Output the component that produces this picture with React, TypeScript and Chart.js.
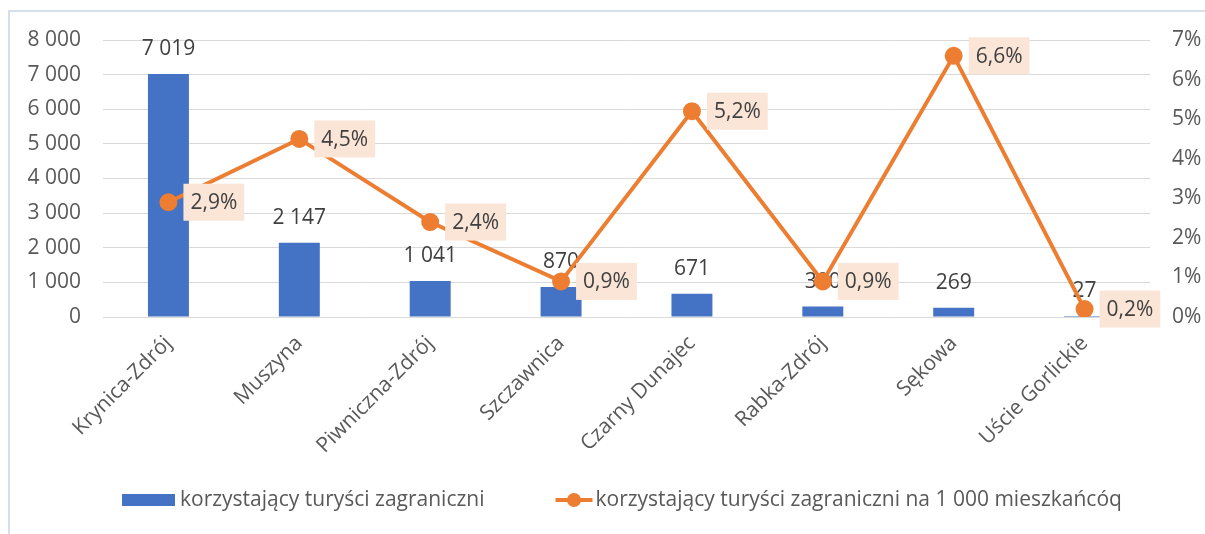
import React, { useEffect, useRef } from "react";
import { Chart, registerables } from "chart.js";

Chart.register(...registerables);

const categories = [
  "Krynica-Zdrój",
  "Muszyna",
  "Piwniczna-Zdrój",
  "Szczawnica",
  "Czarny Dunajec",
  "Rabka-Zdrój",
  "Sękowa",
  "Uście Gorlickie",
];
const tourists = [7019, 2147, 1041, 870, 671, 300, 269, 27];
const perThousand = [2.9, 4.5, 2.4, 0.9, 5.2, 0.9, 6.6, 0.2];
const seriesNames = [
  "korzystający turyści zagraniczni",
  "korzystający turyści zagraniczni na 1 000 mieszkańcóq",
];

const FONT = "'Open Sans', sans-serif";
const FS = 21;
const AXIS_COLOR = "#595959";
const LABEL_COLOR = "#404040";
const BLUE = "#4472C4";
const ORANGE = "#ED7D31";
const PEACH = "#FBE5D6";

const fmtThousands = (v: number) =>
  String(Math.round(v)).replace(/\B(?=(\d{3})+(?!\d))/g, " ");
const fmtPct = (v: number) => v.toFixed(1).replace(".", ",") + "%";

const labelsPlugin = {
  id: "customLabels",
  beforeDatasetDraw(chart: any, args: any) {
    if (args.index !== 1) return;
    const ctx = chart.ctx;
    const meta = chart.getDatasetMeta(0);
    ctx.save();
    ctx.font = `${FS}px ${FONT}`;
    ctx.fillStyle = LABEL_COLOR;
    ctx.textAlign = "center";
    ctx.textBaseline = "middle";
    meta.data.forEach((bar: any, i: number) => {
      ctx.fillText(fmtThousands(tourists[i]), bar.x, bar.y - 25);
    });
    ctx.restore();
  },
  afterDatasetsDraw(chart: any) {
    const ctx = chart.ctx;
    const meta = chart.getDatasetMeta(1);
    ctx.save();
    ctx.font = `${FS}px ${FONT}`;
    ctx.textBaseline = "middle";
    ctx.textAlign = "center";
    meta.data.forEach((pt: any, i: number) => {
      const text = fmtPct(perThousand[i]);
      const w = ctx.measureText(text).width + 14;
      const h = 37;
      const left = pt.x + 15;
      ctx.fillStyle = PEACH;
      ctx.fillRect(left, pt.y - h / 2, w, h);
      ctx.fillStyle = LABEL_COLOR;
      ctx.fillText(text, left + w / 2, pt.y + 1);
    });
    ctx.restore();
  },
  afterDraw(chart: any) {
    const ctx = chart.ctx;
    const y = 500;
    ctx.save();
    ctx.font = `${FS}px ${FONT}`;
    ctx.textBaseline = "middle";
    ctx.textAlign = "left";
    let x = 122;
    ctx.fillStyle = BLUE;
    ctx.fillRect(x, y - 6, 53, 12);
    ctx.fillStyle = AXIS_COLOR;
    ctx.fillText(seriesNames[0], x + 58, y);
    x = x + 58 + ctx.measureText(seriesNames[0]).width + 71;
    ctx.strokeStyle = ORANGE;
    ctx.lineWidth = 4;
    ctx.beginPath();
    ctx.moveTo(x, y);
    ctx.lineTo(x + 37, y);
    ctx.stroke();
    ctx.fillStyle = ORANGE;
    ctx.beginPath();
    ctx.arc(x + 18.5, y, 7, 0, Math.PI * 2);
    ctx.fill();
    ctx.fillStyle = AXIS_COLOR;
    ctx.fillText(seriesNames[1], x + 40, y);
    ctx.restore();
  },
};

export default function App() {
  const canvasRef = useRef<HTMLCanvasElement | null>(null);

  useEffect(() => {
    if (!canvasRef.current) return;
    const chart = new Chart(canvasRef.current, {
      type: "bar",
      data: {
        labels: categories,
        datasets: [
          {
            type: "bar",
            label: seriesNames[0],
            data: tourists,
            backgroundColor: BLUE,
            yAxisID: "y",
            barPercentage: 0.313,
            categoryPercentage: 1,
            order: 1,
          },
          {
            type: "line",
            label: seriesNames[1],
            data: perThousand,
            borderColor: ORANGE,
            backgroundColor: ORANGE,
            borderWidth: 4,
            pointRadius: 7,
            pointBackgroundColor: ORANGE,
            pointBorderColor: ORANGE,
            tension: 0,
            yAxisID: "y1",
            order: 0,
          } as any,
        ],
      },
      options: {
        animation: false,
        responsive: true,
        maintainAspectRatio: false,
        layout: { padding: { top: 40, bottom: 70, left: 0, right: 0 } },
        plugins: {
          legend: { display: false },
          tooltip: { enabled: false },
        },
        scales: {
          x: {
            grid: { display: false },
            border: { display: false },
            ticks: {
              color: AXIS_COLOR,
              font: { family: FONT, size: FS },
              minRotation: 45,
              maxRotation: 45,
              padding: 6,
            },
            afterFit: (s: any) => {
              s.height = 147;
            },
          },
          y: {
            position: "left",
            min: 0,
            max: 8000,
            grid: { color: "#D9D9D9", lineWidth: 1, drawTicks: false },
            border: { display: false },
            ticks: {
              stepSize: 1000,
              color: AXIS_COLOR,
              font: { family: FONT, size: FS },
              padding: 22,
              callback: (v: any) => fmtThousands(Number(v)),
            },
            afterFit: (s: any) => {
              s.width = 103;
            },
          },
          y1: {
            position: "right",
            min: 0,
            max: 7,
            grid: { display: false, drawTicks: false },
            border: { display: false },
            ticks: {
              stepSize: 1,
              color: AXIS_COLOR,
              font: { family: FONT, size: FS },
              padding: 22,
              callback: (v: any) => Number(v) + "%",
            },
            afterFit: (s: any) => {
              s.width = 55;
            },
          },
        },
      },
      plugins: [labelsPlugin],
    });
    return () => chart.destroy();
  }, []);

  return (
    <div
      style={{
        position: "fixed",
        left: 0,
        top: 0,
        width: 1205,
        height: 534,
        background: "#fff",
        overflow: "hidden",
      }}
    >
      <div
        style={{
          position: "absolute",
          left: 8,
          top: 10,
          width: 2000,
          height: 2000,
          borderLeft: "2px solid #D6DEEB",
          borderTop: "2px solid #D6DEEB",
        }}
      />
      <canvas
        ref={canvasRef}
        style={{ position: "absolute", left: 0, top: 0 }}
      />
    </div>
  );
}
